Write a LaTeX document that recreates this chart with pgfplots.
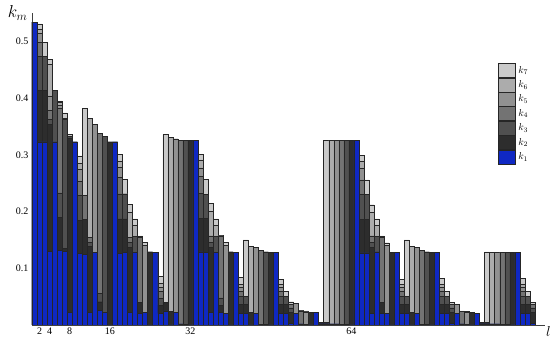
\documentclass[border=0pt]{standalone}
\usepackage{pgfplots}
\pgfplotsset{compat=1.18}
\usepackage{pgfplotstable}
\usepackage{fontspec}
\setmainfont{Liberation Serif}
\definecolor{ka}{RGB}{15,40,195}
\definecolor{kb}{RGB}{45,45,45}
\definecolor{kc}{RGB}{80,80,80}
\definecolor{kd}{RGB}{115,115,115}
\definecolor{ke}{RGB}{145,145,145}
\definecolor{kf}{RGB}{172,172,172}
\definecolor{kg}{RGB}{202,202,202}
\pgfplotstableread{
l t1 t2 t3 t4 t5 t6 t7
1 .534 .534 .534 .534 .534 .534 .534
2 .323 .414 .474 .498 .514 .522 .531
3 .323 .414 .474 .474 .474 .474 .498
4 .130 .354 .363 .378 .404 .460 .468
5 .323 .323 .414 .414 .414 .414 .414
6 .132 .190 .233 .382 .388 .392 .395
7 .130 .135 .362 .364 .364 .364 .374
8 .022 .330 .333 .333 .333 .333 .336
9 .323 .323 .323 .323 .323 .323 .323
10 .126 .184 .229 .253 .274 .285 .298
11 .124 .186 .186 .228 .228 .228 .382
12 .022 .138 .146 .155 .155 .364 .364
13 .128 .128 .128 .128 .354 .354 .354
14 .026 .041 .056 .338 .338 .338 .338
15 .022 .022 .332 .332 .332 .332 .332
16 0 .323 .323 .323 .323 .323 .323
17 .323 .323 .323 .323 .323 .323 .323
18 .126 .187 .231 .260 .278 .288 .301
19 .128 .187 .231 .231 .231 .231 .257
20 .022 .137 .146 .155 .155 .198 .213
21 .128 .128 .156 .156 .156 .175 .187
22 .021 .040 .040 .155 .155 .155 .157
23 .022 .022 .022 .022 .141 .141 .146
24 0 .129 .129 .129 .129 .129 .129
25 .128 .128 .128 .128 .128 .128 .128
26 .020 .035 .047 .059 .066 .074 .086
27 .025 .040 .040 .040 .040 .040 .336
28 0 .024 .024 .024 .024 .331 .331
29 .022 .022 .022 .022 .328 .328 .328
30 .002 .002 .002 .325 .325 .325 .325
31 .001 .001 .325 .325 .325 .325 .325
32 0 .325 .325 .325 .325 .325 .325
33 .325 .325 .325 .325 .325 .325 .325
34 .129 .188 .232 .262 .277 .291 .301
35 .128 .188 .230 .230 .230 .230 .257
36 .022 .137 .146 .157 .157 .200 .214
37 .128 .128 .156 .156 .156 .175 .187
38 .022 .035 .048 .157 .157 .157 .158
39 .020 .020 .020 .020 .140 .140 .146
40 0 .129 .129 .129 .129 .129 .129
41 .128 .128 .128 .128 .128 .128 .128
42 .021 .037 .050 .059 .066 .072 .084
43 .021 .037 .050 .050 .050 .050 .150
44 0 .022 .022 .022 .022 .139 .139
45 .020 .020 .020 .020 .137 .137 .137
46 .001 .001 .001 .131 .131 .131 .131
47 .001 .001 .129 .129 .129 .129 .129
48 0 .128 .128 .128 .128 .128 .128
49 .128 .128 .128 .128 .128 .128 .128
50 .021 .037 .050 .059 .066 .072 .081
51 .021 .037 .050 .050 .050 .050 .059
52 .003 .022 .030 .036 .036 .036 .041
53 .021 .021 .021 .021 .038 .038 .038
54 .002 .002 .002 .025 .025 .025 .026
55 .001 .001 .001 .001 .023 .023 .025
56 0 .022 .022 .022 .022 .022 .022
57 .022 .022 .022 .022 .022 .022 .022
58 .002 .005 .005 .005 .005 .005 .005
59 .002 .004 .004 .004 .004 .004 .325
60 .002 .002 .002 .002 .002 .325 .325
61 .002 .002 .002 .002 .325 .325 .325
62 .001 .001 .001 .325 .325 .325 .325
63 .001 .001 .325 .325 .325 .325 .325
64 0 .325 .325 .325 .325 .325 .325
65 .325 .325 .325 .325 .325 .325 .325
66 .127 .186 .230 .256 .276 .289 .299
67 .127 .186 .230 .230 .230 .230 .256
68 .021 .137 .146 .157 .157 .199 .212
69 .129 .129 .156 .156 .156 .175 .187
70 .021 .040 .040 .155 .155 .155 .157
71 .021 .021 .021 .021 .140 .140 .145
72 0 .128 .128 .128 .128 .128 .128
73 .128 .128 .128 .128 .128 .128 .128
74 .021 .037 .050 .059 .066 .072 .081
75 .021 .037 .050 .050 .050 .050 .150
76 0 .022 .022 .022 .022 .139 .139
77 .020 .020 .020 .020 .137 .137 .137
78 .001 .001 .001 .131 .131 .131 .131
79 .001 .001 .129 .129 .129 .129 .129
80 0 .128 .128 .128 .128 .128 .128
81 .128 .128 .128 .128 .128 .128 .128
82 .021 .037 .050 .059 .066 .072 .082
83 .021 .037 .050 .050 .050 .050 .059
84 .003 .022 .030 .036 .036 .036 .040
85 .021 .021 .021 .021 .037 .037 .037
86 .002 .002 .002 .024 .024 .024 .025
87 .001 .001 .001 .001 .022 .022 .024
88 0 .022 .022 .022 .022 .022 .022
89 .021 .021 .021 .021 .021 .021 .021
90 .002 .004 .004 .004 .004 .004 .004
91 .002 .004 .004 .004 .004 .004 .129
92 .002 .002 .002 .002 .002 .128 .128
93 .002 .002 .002 .002 .128 .128 .128
94 .001 .001 .001 .128 .128 .128 .128
95 .001 .001 .128 .128 .128 .128 .128
96 0 .128 .128 .128 .128 .128 .128
97 .128 .128 .128 .128 .128 .128 .128
98 .021 .037 .050 .059 .066 .072 .082
99 .021 .037 .050 .050 .050 .050 .059
100 .003 .022 .030 .036 .036 .036 .040
}\kdata
\begin{document}
\begin{tikzpicture}
\begin{axis}[
  name=ax,
  scale only axis, width=513pt, height=312pt,
  xmin=0.5, xmax=102.5, ymin=0, ymax=0.55,
  axis lines*=left,
  axis line style={black!75, line width=0.5pt},
  xtick={2,4,8,16,32,64},
  ytick={0.1,0.2,0.3,0.4,0.5},
  yticklabel style={/pgf/number format/.cd, fixed, precision=1, fixed zerofill},
  /pgf/number format/assume math mode=true,
  ticklabel style={font=\normalsize},
  xticklabel style={yshift=1pt},
  tick align=inside, major tick length=3pt,
  tick style={black!75},
  xlabel={$l$},
  xlabel style={at={(axis description cs:1,0)}, anchor=north west, inner sep=1pt, font=\Large},
  ylabel={$k_m$},
  ylabel style={rotate=-90, at={(axis description cs:0,1)}, anchor=east, xshift=-1pt, font=\LARGE},
  legend style={at={(0.908,0.840)}, anchor=north west, draw=none, fill=none, inner sep=0pt,
    row sep=0pt, column sep=3pt, font=\normalsize, nodes={inner sep=0pt, anchor=west}},
  legend cell align=left,
  legend image code/.code={\draw[#1] (0pt,-7pt) rectangle (17pt,7pt);},
  every axis plot/.append style={draw=black!85, line width=0.45pt},
]
\addplot[ybar, bar width=1, bar shift=0pt, fill=kg, draw=black!85] table[x=l, y=t7] {\kdata};
\addplot[ybar, bar width=1, bar shift=0pt, fill=kf, draw=black!85] table[x=l, y=t6] {\kdata};
\addplot[ybar, bar width=1, bar shift=0pt, fill=ke, draw=black!85] table[x=l, y=t5] {\kdata};
\addplot[ybar, bar width=1, bar shift=0pt, fill=kd, draw=black!85] table[x=l, y=t4] {\kdata};
\addplot[ybar, bar width=1, bar shift=0pt, fill=kc, draw=black!85] table[x=l, y=t3] {\kdata};
\addplot[ybar, bar width=1, bar shift=0pt, fill=kb, draw=black!85] table[x=l, y=t2] {\kdata};
\addplot[ybar, bar width=1, bar shift=0pt, fill=ka, draw=black!85] table[x=l, y=t1] {\kdata};
\legend{$k_7$,$k_6$,$k_5$,$k_4$,$k_3$,$k_2$,$k_1$}
\end{axis}
\pgfresetboundingbox
\path ([xshift=-32pt,yshift=-15pt]ax.south west) rectangle ([xshift=5pt,yshift=13pt]ax.north east);
\end{tikzpicture}
\end{document}
